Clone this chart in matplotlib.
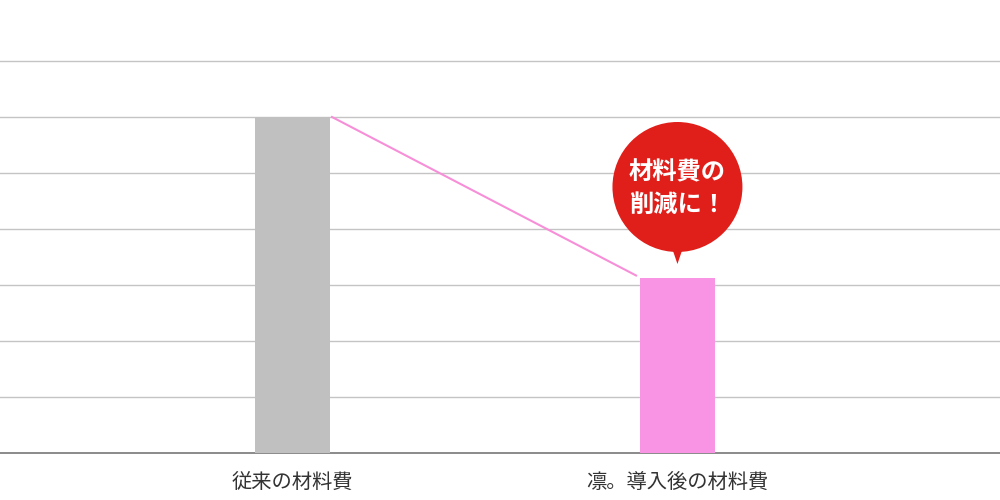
import matplotlib
matplotlib.use("Agg")
import matplotlib.pyplot as plt
from matplotlib.patches import Ellipse, Polygon

plt.rcParams['font.family'] = ['Noto Sans CJK JP', 'DejaVu Sans']

categories = ["従来の材料費", "凛。導入後の材料費"]
values = [6.0, 3.12]
bar_colors = ["#c0c0c0", "#f993e3"]
callout_text = "材料費の\n削減に！"

fig = plt.figure(figsize=(10, 5), dpi=100)
ax = fig.add_axes([0, 47/500, 1, 448/500])

x = [0, 1]
bw = 0.195
ax.bar(x, values, width=bw, color=bar_colors, zorder=3)

ax.set_xlim(-0.76, 1.838)
ax.set_ylim(0, 8)
ax.set_yticks(range(1, 8))
ax.yaxis.grid(True, color="#c4c4c4", linewidth=1, zorder=0)
ax.tick_params(axis='y', left=False, labelleft=False)
ax.tick_params(axis='x', bottom=False, labelsize=14.6, labelcolor="#333333", pad=10)
ax.set_xticks(x)
ax.set_xticklabels(categories)
for s in ["top", "right", "left"]:
    ax.spines[s].set_visible(False)
ax.spines["bottom"].set_color("#777777")
ax.spines["bottom"].set_linewidth(1.2)

# connecting line
ax.plot([x[0] + bw/2 + 0.005, x[1] - bw/2 - 0.01], [values[0], values[1] + 0.05],
        color="#f78fd8", linewidth=1.5, zorder=4)

# callout bubble
cx, cy = x[1], values[1] + 1.63
r_px = 65
ew = 2 * r_px / 385
eh = 2 * r_px / 56
red = "#e01e1a"
ax.add_patch(Ellipse((cx, cy), ew, eh, color=red, zorder=5, linewidth=0))
tail_base = cy - (r_px - 3) / 56
ax.add_patch(Polygon([(cx - 7/385, tail_base + 0.1), (cx + 7/385, tail_base + 0.1),
                      (cx, tail_base - 15/56)], closed=True, color=red, zorder=5, linewidth=0))
ax.text(cx, cy - 0.03, callout_text, ha="center", va="center", color="white",
        fontsize=17.5, fontweight="bold", linespacing=1.45, zorder=6)

fig.savefig("out.png", dpi=100)
